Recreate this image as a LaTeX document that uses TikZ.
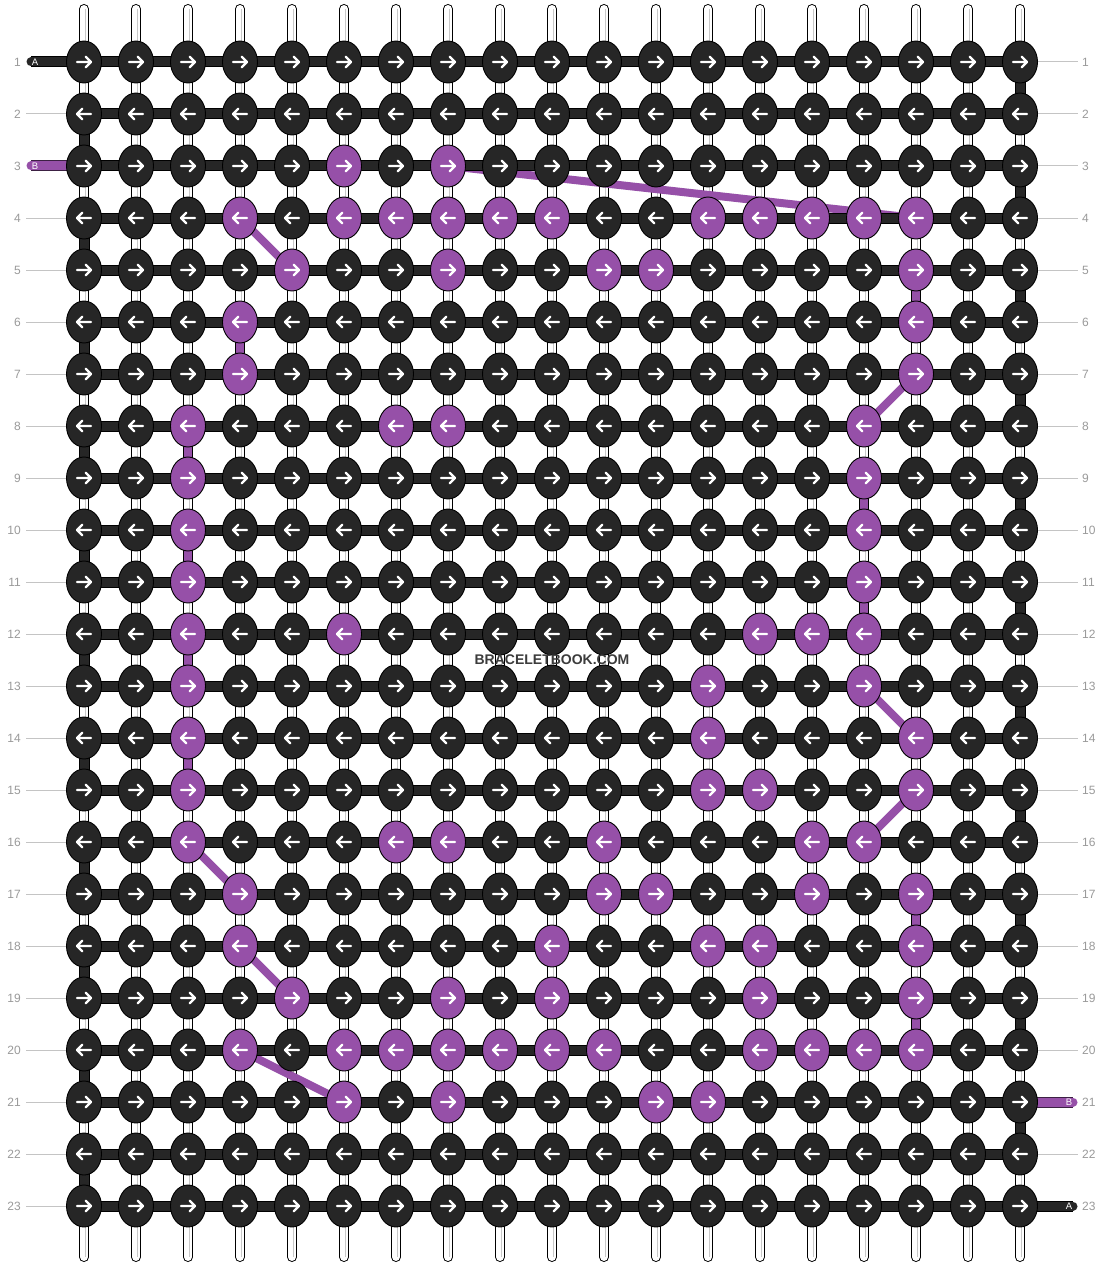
\documentclass[tikz,border=0pt]{standalone}
\usepackage{fontspec}
\setmainfont{Liberation Sans}
\usetikzlibrary{shapes.geometric}
\pgfdeclarelayer{bg}
\pgfdeclarelayer{strands}
\pgfdeclarelayer{purp}
\pgfdeclarelayer{thread}
\pgfdeclarelayer{front}
\pgfsetlayers{bg,strands,purp,thread,main,front}
\definecolor{knotblack}{HTML}{262626}
\definecolor{knotpurple}{HTML}{9650A8}
\definecolor{labelgray}{HTML}{9A9A9A}
\definecolor{leadgray}{HTML}{C4C4C4}
\definecolor{strandgray}{HTML}{C8C8C8}
\definecolor{wmgray}{HTML}{3C3C3C}
\makeatletter
\@namedef{prow1}{}
\@namedef{prow2}{}
\@namedef{prow3}{6,8}
\@namedef{prow4}{4,6,7,8,9,10,13,14,15,16,17}
\@namedef{prow5}{5,8,11,12,17}
\@namedef{prow6}{4,17}
\@namedef{prow7}{4,17}
\@namedef{prow8}{3,7,8,16}
\@namedef{prow9}{3,16}
\@namedef{prow10}{3,16}
\@namedef{prow11}{3,16}
\@namedef{prow12}{3,6,14,15,16}
\@namedef{prow13}{3,13,16}
\@namedef{prow14}{3,13,17}
\@namedef{prow15}{3,13,14,17}
\@namedef{prow16}{3,7,8,11,15,16}
\@namedef{prow17}{4,11,12,15,17}
\@namedef{prow18}{4,10,13,14,17}
\@namedef{prow19}{5,8,10,14,17}
\@namedef{prow20}{4,6,7,8,9,10,11,14,15,16,17}
\@namedef{prow21}{6,8,12,13}
\@namedef{prow22}{}
\@namedef{prow23}{}
\newcommand\setknotfill[2]{%
  \edef\@tempa{\noexpand\in@{,#2,}{,\csname prow#1\endcsname,}}%
  \@tempa
  \ifin@\def\kfill{knotpurple}\else\def\kfill{knotblack}\fi}
\makeatother
\begin{document}
\begin{tikzpicture}[x=1pt,y=-1pt,
  knot/.style={ellipse,draw=black,line width=0.9pt,minimum width=35pt,minimum height=42pt,inner sep=0pt},
  arrowline/.style={white,line width=2.4pt,line cap=round,line join=round},
  thread/.style={draw=knotblack,line width=9pt,preaction={draw=black,line width=11pt}},
  pthread/.style={draw=knotpurple,line width=9pt,preaction={draw=black!60!knotpurple,line width=11pt}},
  pconn/.style={draw=knotpurple,line width=8pt},
  leader/.style={draw=leadgray,line width=1pt},
  rowlab/.style={text=labelgray,font=\fontsize{12}{14}\selectfont,inner sep=0pt},
  endlab/.style={text=white,font=\fontsize{9.5}{11}\selectfont,inner sep=0pt},
]
\useasboundingbox (0,0) rectangle (1104,1268);
\begin{pgfonlayer}{bg}
\fill[white] (0,0) rectangle (1104,1268);
\end{pgfonlayer}
% knots
\foreach \r in {1,...,23}{
  \foreach \c in {1,...,19}{
    \setknotfill{\r}{\c}
    \pgfmathsetmacro\xx{84+52*(\c-1)}
    \pgfmathsetmacro\yy{62+52*(\r-1)}
    \node[knot,fill=\kfill] (k-\r-\c) at (\xx,\yy) {};
    \ifodd\r
      \draw[arrowline] (k-\r-\c.center) +(-7,0) -- +(7,0) +(1.8,-5.2) -- +(7,0) -- +(1.8,5.2);
    \else
      \draw[arrowline] (k-\r-\c.center) +(7,0) -- +(-7,0) +(-1.8,-5.2) -- +(-7,0) -- +(-1.8,5.2);
    \fi
  }
}
% vertical strands
\foreach \c in {1,...,19}{
  \pgfmathsetmacro\xx{84+52*(\c-1)}
  \coordinate (st-\c) at (\xx,9);
  \coordinate (sb-\c) at (\xx,1257);
  \begin{pgfonlayer}{strands}
    \draw[line width=10pt,black,line cap=round] (st-\c) -- (sb-\c);
    \draw[line width=8pt,white,line cap=round] (st-\c) -- (sb-\c);
    \draw[strandgray,line width=0.8pt] ([xshift=1pt]st-\c) -- ([xshift=1pt]sb-\c);
  \end{pgfonlayer}
}
% horizontal threads
\begin{pgfonlayer}{thread}
\foreach \r in {1,...,23}{
  \draw[thread] (k-\r-1.center) -- (k-\r-19.center);
}
\foreach \r in {1,3,...,21}{
  \pgfmathtruncatemacro\n{\r+1}
  \draw[thread] (k-\r-19.center) -- (k-\n-19.center);
}
\foreach \r in {2,4,...,22}{
  \pgfmathtruncatemacro\n{\r+1}
  \draw[thread] (k-\r-1.center) -- (k-\n-1.center);
}
\coordinate (aL) at (31,62);
\coordinate (aR) at (1073,1206);
\coordinate (bL) at (31,166);
\coordinate (bR) at (1073,1102);
\draw[thread,line cap=round] (aL) -- (k-1-1.center);
\draw[thread,line cap=round] (k-23-19.center) -- (aR);
\draw[pthread,line cap=round] (bL) -- (k-3-1.center);
\draw[pthread,line cap=round] (k-21-19.center) -- (bR);
\end{pgfonlayer}
% purple connectors
\begin{pgfonlayer}{purp}
\foreach \a/\b/\c/\d in {3/8/4/17,4/4/5/5,5/17/6/17,6/4/7/4,7/17/8/16,8/3/9/3,9/16/10/16,10/3/11/3,11/16/12/16,12/3/13/3,13/16/14/17,14/3/15/3,15/17/16/16,16/3/17/4,17/17/18/17,18/4/19/5,19/17/20/17,20/4/21/6}{
  \draw[pconn] (k-\a-\b.center) -- (k-\c-\d.center);
}
\end{pgfonlayer}
% end labels
\node[endlab] (lA1) at (35,62) {A};
\node[endlab] (lB1) at (35,166) {B};
\node[endlab] (lB2) at (1069,1102) {B};
\node[endlab] (lA2) at (1069,1206) {A};
% row labels and leaders
\foreach \r in {1,...,23}{
  \pgfmathsetmacro\yy{62+52*(\r-1)}
  \node[rowlab,anchor=east] (ll-\r) at (21,\yy) {\r};
  \node[rowlab,anchor=west] (rl-\r) at (1082,\yy) {\r};
  \coordinate (lc-\r) at (26,\yy);
  \coordinate (rc-\r) at (1078,\yy);
  \ifnum\r=1\else\ifnum\r=3\else
    \draw[leader] (lc-\r) -- (k-\r-1.west);
  \fi\fi
  \ifnum\r=21\else\ifnum\r=23\else
    \draw[leader] (k-\r-19.east) -- (rc-\r);
  \fi\fi
}
\begin{pgfonlayer}{front}
\node[text=wmgray,font=\bfseries\fontsize{14}{16}\selectfont,inner sep=0pt] (wm) at (552,660) {BRACELETBOOK.COM};
\end{pgfonlayer}
\end{tikzpicture}
\end{document}
